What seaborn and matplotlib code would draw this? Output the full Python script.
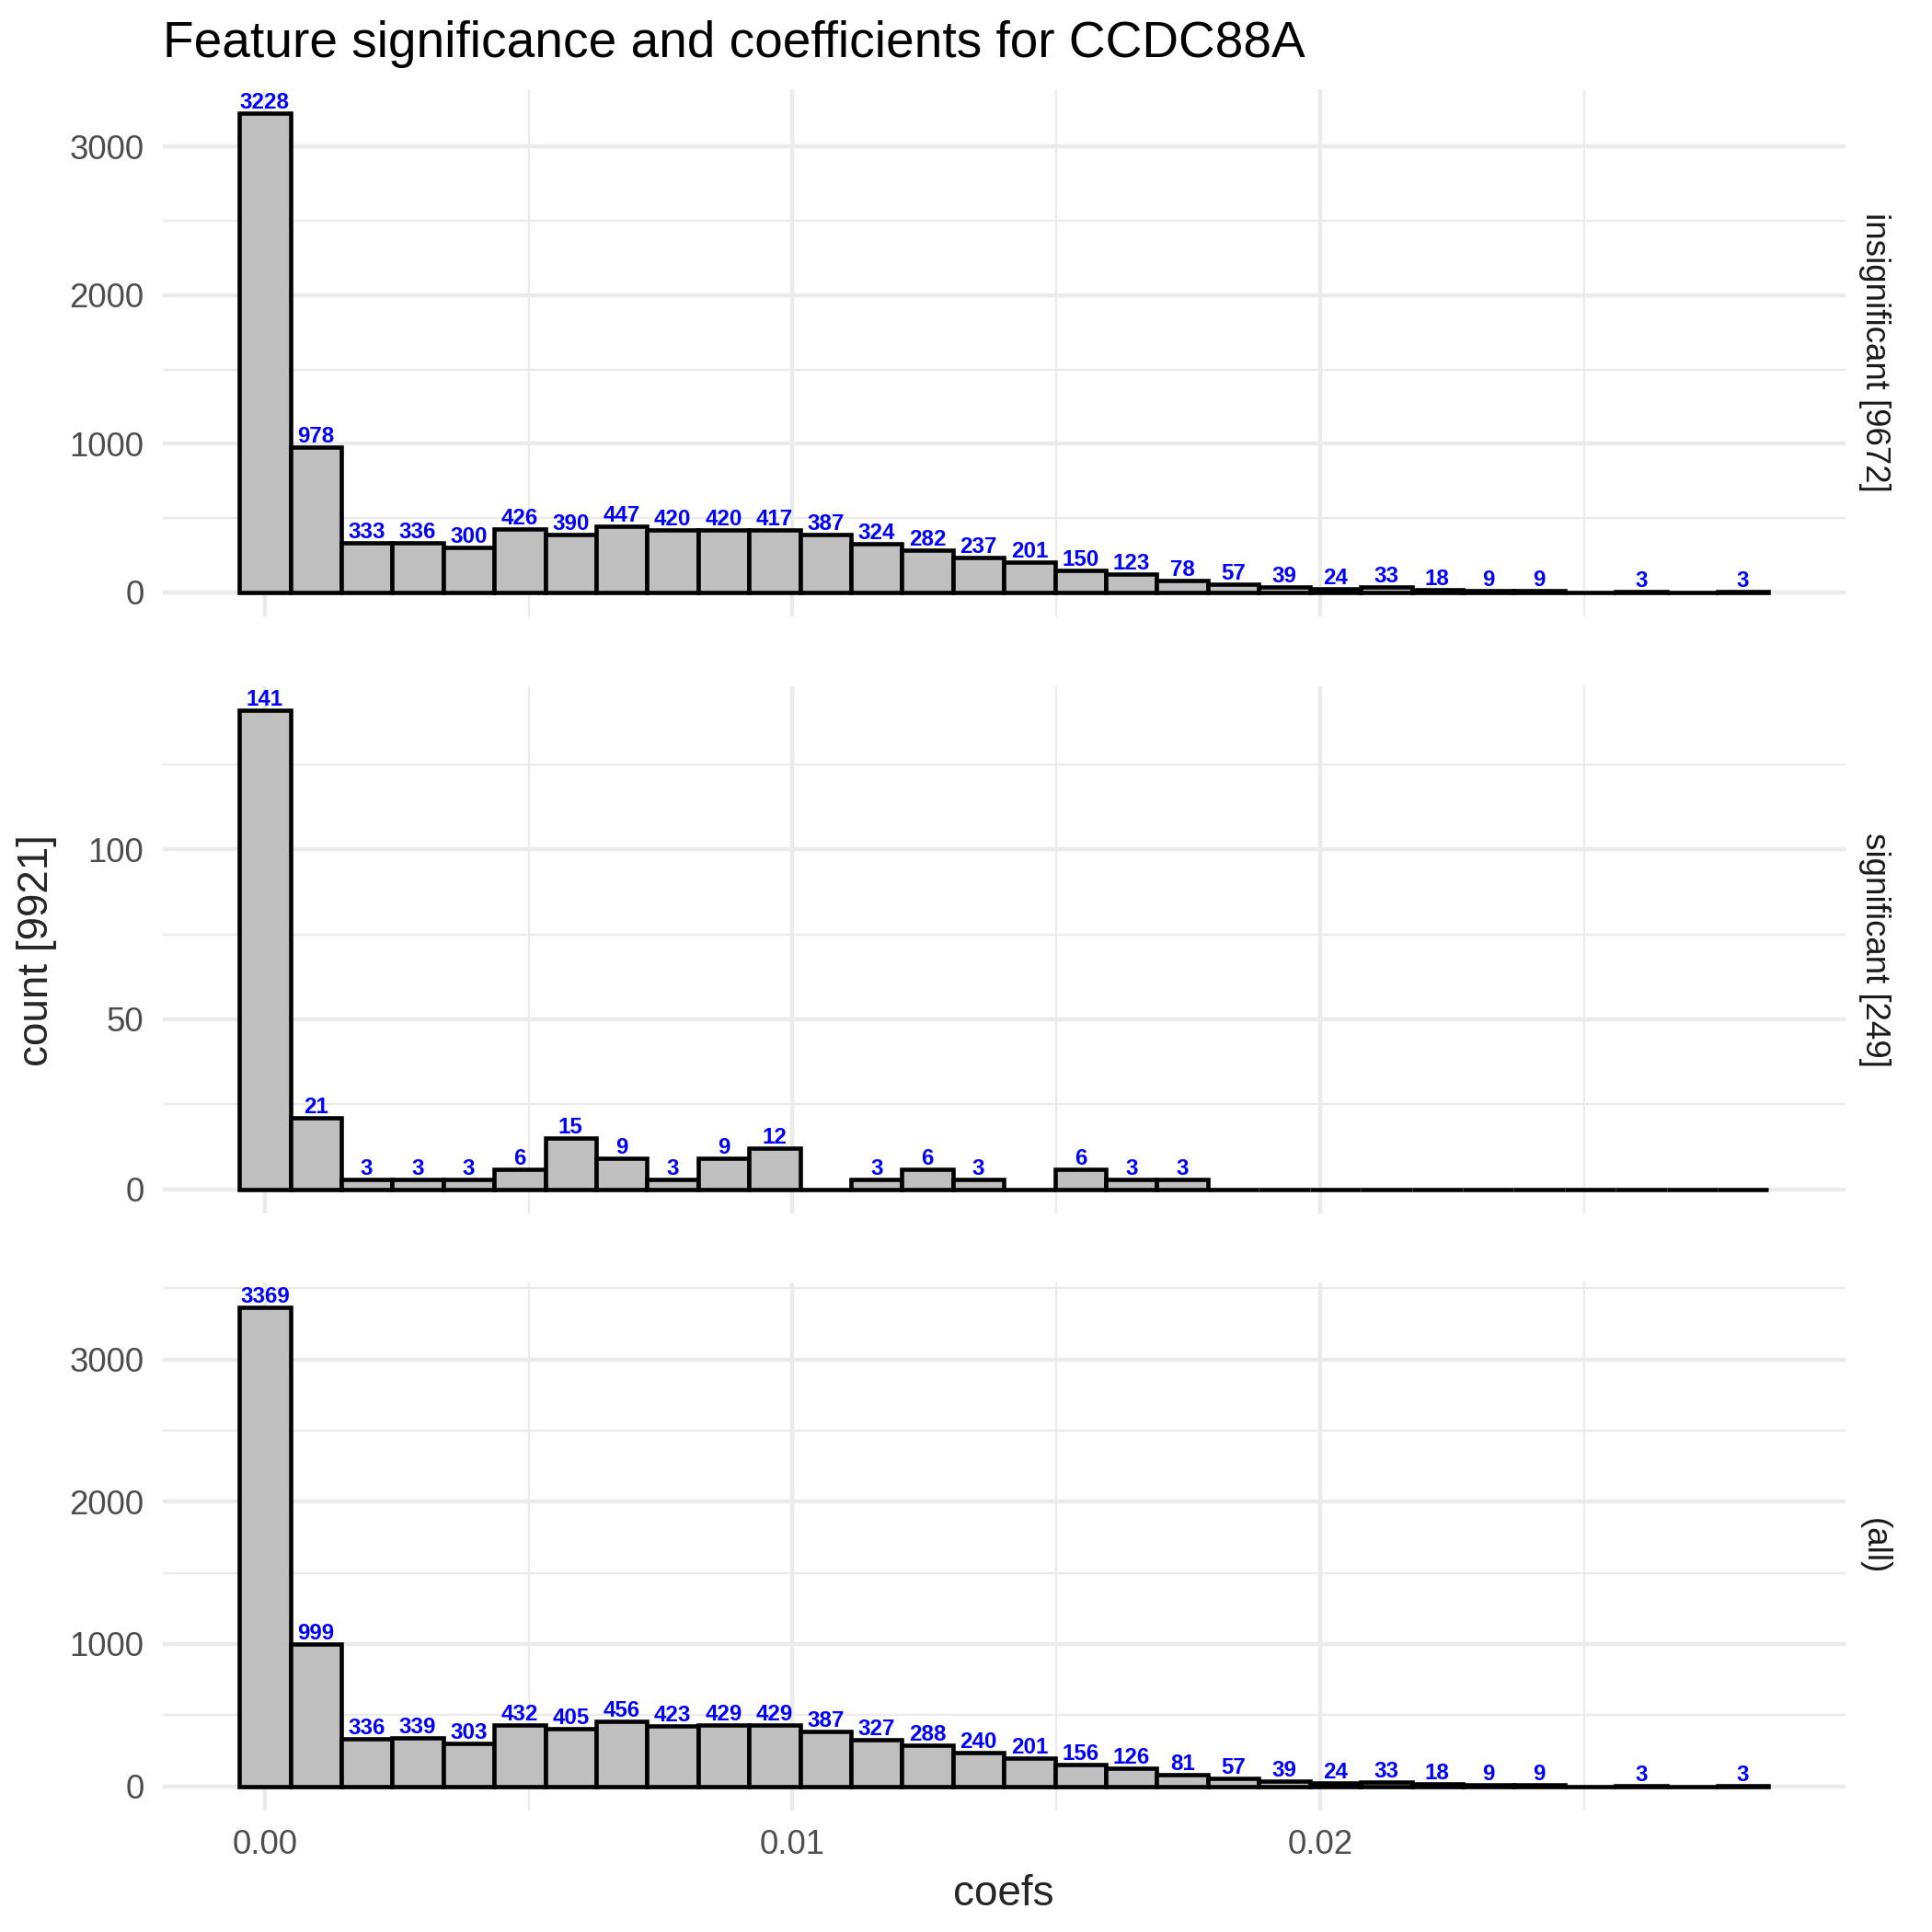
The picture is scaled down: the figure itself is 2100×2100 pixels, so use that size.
import numpy as np
import pandas as pd
import matplotlib
matplotlib.use("Agg")
import matplotlib.pyplot as plt
import seaborn as sns
from matplotlib.ticker import MultipleLocator, FixedLocator, FixedFormatter

# histogram bins (30 bins, first centred on 0)
bin_width = 0.000966
n_bins = 30
bin_centers = np.arange(n_bins) * bin_width
bin_edges = np.append(bin_centers - bin_width / 2, bin_centers[-1] + bin_width / 2)

# counts per bin
insignificant = [3228, 978, 333, 336, 300, 426, 390, 447, 420, 420, 417, 387, 324, 282, 237,
                 201, 150, 123, 78, 57, 39, 24, 33, 18, 9, 9, 0, 3, 0, 3]
significant = [141, 21, 3, 3, 3, 6, 15, 9, 3, 9, 12, 0, 3, 6, 3,
               0, 6, 3, 3, 0, 0, 0, 0, 0, 0, 0, 0, 0, 0, 0]
all_counts = [3369, 999, 336, 339, 303, 432, 405, 456, 423, 429, 429, 387, 327, 288, 240,
              201, 156, 126, 81, 57, 39, 24, 33, 18, 9, 9, 0, 3, 0, 3]

facet_labels = ["insignificant [9672]", "significant [249]", "(all)"]
facet_counts = [insignificant, significant, all_counts]
y_major = [1000, 50, 1000]

x_ticks = [0.0, 0.01, 0.02]
x_tick_labels = ["0.00", "0.01", "0.02"]

title = "Feature significance and coefficients for CCDC88A"
x_label = "coefs"
y_label = "count [9921]"

df = pd.concat([
    pd.DataFrame({"facet": lab, "coefs": bin_centers, "count": cnt})
    for lab, cnt in zip(facet_labels, facet_counts)
], ignore_index=True)

sns.set_theme(style="white")
plt.rcParams["font.family"] = ["Liberation Sans", "DejaVu Sans"]

fig, axes = plt.subplots(3, 1, figsize=(7, 7), dpi=300, sharex=True)
fig.subplots_adjust(left=0.0843, right=0.955, top=0.954, bottom=0.063, hspace=0.132)

grid_col = "#EBEBEB"
x_range = bin_edges[-1] - bin_edges[0]

for ax, lab, step in zip(axes, facet_labels, y_major):
    sub = df[df["facet"] == lab]
    sns.histplot(data=sub, x="coefs", weights="count", bins=list(bin_edges), ax=ax,
                 color="#BFBFBF", edgecolor="black", linewidth=1.1, alpha=1)

    for c, n in zip(sub["coefs"], sub["count"]):
        if n > 0:
            ax.annotate(str(int(n)), (c, n), xytext=(0, 1.2), textcoords="offset points",
                        ha="center", va="baseline", fontsize=5.8, fontweight="bold",
                        color="#0000FF")

    ymax = sub["count"].max()
    ax.set_ylim(-0.05 * ymax, 1.05 * ymax)
    ax.set_xlim(bin_edges[0] - 0.05 * x_range, bin_edges[-1] + 0.05 * x_range)

    ax.yaxis.set_major_locator(MultipleLocator(step))
    ax.yaxis.set_minor_locator(MultipleLocator(step / 2))
    ax.xaxis.set_major_locator(FixedLocator(x_ticks))
    ax.xaxis.set_major_formatter(FixedFormatter(x_tick_labels))
    ax.xaxis.set_minor_locator(MultipleLocator(0.005))

    ax.set_axisbelow(True)
    ax.grid(which="major", color=grid_col, linewidth=1.07)
    ax.grid(which="minor", color=grid_col, linewidth=0.53)
    for s in ax.spines.values():
        s.set_visible(False)
    ax.tick_params(which="both", length=0, pad=4.95, labelsize=8.8, labelcolor="#4D4D4D")
    ax.set_xlabel("")
    ax.set_ylabel("")

    ax.text(1.0175, 0.5, lab, transform=ax.transAxes, rotation=-90,
            ha="center", va="center", fontsize=8.8, color="#1A1A1A")

axes[0].tick_params(labelbottom=False)
axes[1].tick_params(labelbottom=False)

fig.text(0.0843, 0.9705, title, ha="left", va="baseline", fontsize=13.2, color="black")
fig.text(0.019, 0.508, y_label, rotation=90, ha="center", va="center", fontsize=11)
fig.text(0.5196, 0.0195, x_label, ha="center", va="center", fontsize=11)

fig.savefig("out.png", dpi=300, facecolor="white")
